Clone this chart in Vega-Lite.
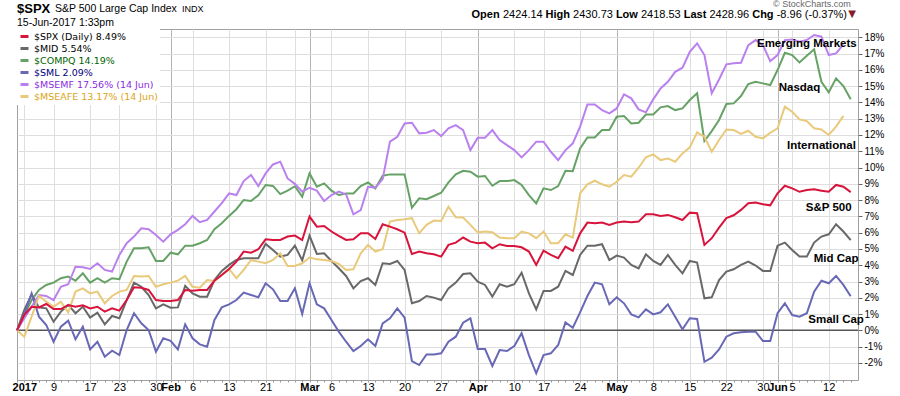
{
"$schema": "https://vega.github.io/schema/vega-lite/v6.json",
"width": 841, "height": 351, "autosize": "none",
"padding": {"left": 17, "top": 29, "right": 42, "bottom": 16},
"background": "white",
"config": {"view": {"stroke": "#a0a0a0", "strokeWidth": 1}, "font": "Liberation Sans"},
"datasets": {
"prices": [
{"date":"2016-12-30","series":"$MID","pct":0},{"date":"2017-01-03","series":"$MID","pct":1.25},{"date":"2017-01-04","series":"$MID","pct":2.21},{"date":"2017-01-05","series":"$MID","pct":1.41},{"date":"2017-01-06","series":"$MID","pct":1.35},{"date":"2017-01-09","series":"$MID","pct":0.53},{"date":"2017-01-10","series":"$MID","pct":1.15},{"date":"2017-01-11","series":"$MID","pct":1.56},{"date":"2017-01-12","series":"$MID","pct":1.05},{"date":"2017-01-13","series":"$MID","pct":1.45},{"date":"2017-01-17","series":"$MID","pct":0.78},{"date":"2017-01-18","series":"$MID","pct":1.09},{"date":"2017-01-19","series":"$MID","pct":0.37},{"date":"2017-01-20","series":"$MID","pct":0.88},{"date":"2017-01-23","series":"$MID","pct":0.74},{"date":"2017-01-24","series":"$MID","pct":1.86},{"date":"2017-01-25","series":"$MID","pct":2.93},{"date":"2017-01-26","series":"$MID","pct":2.68},{"date":"2017-01-27","series":"$MID","pct":2.17},{"date":"2017-01-30","series":"$MID","pct":1.35},{"date":"2017-01-31","series":"$MID","pct":1.6},{"date":"2017-02-01","series":"$MID","pct":1.39},{"date":"2017-02-02","series":"$MID","pct":1.41},{"date":"2017-02-03","series":"$MID","pct":2.73},{"date":"2017-02-06","series":"$MID","pct":2.27},{"date":"2017-02-07","series":"$MID","pct":2.07},{"date":"2017-02-08","series":"$MID","pct":2.07},{"date":"2017-02-09","series":"$MID","pct":3.09},{"date":"2017-02-10","series":"$MID","pct":3.65},{"date":"2017-02-13","series":"$MID","pct":4.02},{"date":"2017-02-14","series":"$MID","pct":4.32},{"date":"2017-02-15","series":"$MID","pct":4.43},{"date":"2017-02-16","series":"$MID","pct":4.43},{"date":"2017-02-17","series":"$MID","pct":4.43},{"date":"2017-02-21","series":"$MID","pct":5.31},{"date":"2017-02-22","series":"$MID","pct":4.94},{"date":"2017-02-23","series":"$MID","pct":4.53},{"date":"2017-02-24","series":"$MID","pct":4.63},{"date":"2017-02-27","series":"$MID","pct":5.2},{"date":"2017-02-28","series":"$MID","pct":4.3},{"date":"2017-03-01","series":"$MID","pct":5.82},{"date":"2017-03-02","series":"$MID","pct":4.69},{"date":"2017-03-03","series":"$MID","pct":4.73},{"date":"2017-03-06","series":"$MID","pct":4.26},{"date":"2017-03-07","series":"$MID","pct":3.81},{"date":"2017-03-08","series":"$MID","pct":3.34},{"date":"2017-03-09","series":"$MID","pct":2.58},{"date":"2017-03-10","series":"$MID","pct":3.03},{"date":"2017-03-13","series":"$MID","pct":3.2},{"date":"2017-03-14","series":"$MID","pct":2.79},{"date":"2017-03-15","series":"$MID","pct":4.12},{"date":"2017-03-16","series":"$MID","pct":4.08},{"date":"2017-03-17","series":"$MID","pct":4.26},{"date":"2017-03-20","series":"$MID","pct":3.71},{"date":"2017-03-21","series":"$MID","pct":1.66},{"date":"2017-03-22","series":"$MID","pct":1.8},{"date":"2017-03-23","series":"$MID","pct":2.11},{"date":"2017-03-24","series":"$MID","pct":2.01},{"date":"2017-03-27","series":"$MID","pct":1.86},{"date":"2017-03-28","series":"$MID","pct":2.58},{"date":"2017-03-29","series":"$MID","pct":2.93},{"date":"2017-03-30","series":"$MID","pct":3.46},{"date":"2017-03-31","series":"$MID","pct":3.5},{"date":"2017-04-03","series":"$MID","pct":2.99},{"date":"2017-04-04","series":"$MID","pct":2.79},{"date":"2017-04-05","series":"$MID","pct":2.07},{"date":"2017-04-06","series":"$MID","pct":2.83},{"date":"2017-04-07","series":"$MID","pct":2.68},{"date":"2017-04-10","series":"$MID","pct":2.83},{"date":"2017-04-11","series":"$MID","pct":3.54},{"date":"2017-04-12","series":"$MID","pct":2.27},{"date":"2017-04-13","series":"$MID","pct":1.29},{"date":"2017-04-17","series":"$MID","pct":2.42},{"date":"2017-04-18","series":"$MID","pct":2.42},{"date":"2017-04-19","series":"$MID","pct":2.68},{"date":"2017-04-20","series":"$MID","pct":3.65},{"date":"2017-04-21","series":"$MID","pct":3.4},{"date":"2017-04-24","series":"$MID","pct":4.63},{"date":"2017-04-25","series":"$MID","pct":5.2},{"date":"2017-04-26","series":"$MID","pct":5.2},{"date":"2017-04-27","series":"$MID","pct":5.29},{"date":"2017-04-28","series":"$MID","pct":4.32},{"date":"2017-05-01","series":"$MID","pct":4.59},{"date":"2017-05-02","series":"$MID","pct":4.47},{"date":"2017-05-03","series":"$MID","pct":4.02},{"date":"2017-05-04","series":"$MID","pct":3.81},{"date":"2017-05-05","series":"$MID","pct":4.67},{"date":"2017-05-08","series":"$MID","pct":4.26},{"date":"2017-05-09","series":"$MID","pct":4.02},{"date":"2017-05-10","series":"$MID","pct":4.63},{"date":"2017-05-11","series":"$MID","pct":4.02},{"date":"2017-05-12","series":"$MID","pct":3.5},{"date":"2017-05-15","series":"$MID","pct":4.26},{"date":"2017-05-16","series":"$MID","pct":4.16},{"date":"2017-05-17","series":"$MID","pct":1.97},{"date":"2017-05-18","series":"$MID","pct":2.03},{"date":"2017-05-19","series":"$MID","pct":3.09},{"date":"2017-05-22","series":"$MID","pct":3.61},{"date":"2017-05-23","series":"$MID","pct":3.75},{"date":"2017-05-24","series":"$MID","pct":4.02},{"date":"2017-05-25","series":"$MID","pct":4.22},{"date":"2017-05-26","series":"$MID","pct":3.98},{"date":"2017-05-30","series":"$MID","pct":3.65},{"date":"2017-05-31","series":"$MID","pct":3.65},{"date":"2017-06-01","series":"$MID","pct":5.2},{"date":"2017-06-02","series":"$MID","pct":5.39},{"date":"2017-06-05","series":"$MID","pct":4.94},{"date":"2017-06-06","series":"$MID","pct":4.53},{"date":"2017-06-07","series":"$MID","pct":4.53},{"date":"2017-06-08","series":"$MID","pct":5.39},{"date":"2017-06-09","series":"$MID","pct":5.76},{"date":"2017-06-12","series":"$MID","pct":5.9},{"date":"2017-06-13","series":"$MID","pct":6.52},{"date":"2017-06-14","series":"$MID","pct":6.07},{"date":"2017-06-15","series":"$MID","pct":5.54},
{"date":"2016-12-30","series":"$COMPQ","pct":0},{"date":"2017-01-03","series":"$COMPQ","pct":0.94},{"date":"2017-01-04","series":"$COMPQ","pct":1.86},{"date":"2017-01-05","series":"$COMPQ","pct":2.48},{"date":"2017-01-06","series":"$COMPQ","pct":2.79},{"date":"2017-01-09","series":"$COMPQ","pct":2.93},{"date":"2017-01-10","series":"$COMPQ","pct":3.2},{"date":"2017-01-11","series":"$COMPQ","pct":3.3},{"date":"2017-01-12","series":"$COMPQ","pct":3.05},{"date":"2017-01-13","series":"$COMPQ","pct":3.5},{"date":"2017-01-17","series":"$COMPQ","pct":2.93},{"date":"2017-01-18","series":"$COMPQ","pct":3.2},{"date":"2017-01-19","series":"$COMPQ","pct":2.93},{"date":"2017-01-20","series":"$COMPQ","pct":3.2},{"date":"2017-01-23","series":"$COMPQ","pct":3.14},{"date":"2017-01-24","series":"$COMPQ","pct":4.22},{"date":"2017-01-25","series":"$COMPQ","pct":5.04},{"date":"2017-01-26","series":"$COMPQ","pct":5.04},{"date":"2017-01-27","series":"$COMPQ","pct":5.1},{"date":"2017-01-30","series":"$COMPQ","pct":4.26},{"date":"2017-01-31","series":"$COMPQ","pct":4.26},{"date":"2017-02-01","series":"$COMPQ","pct":4.77},{"date":"2017-02-02","series":"$COMPQ","pct":4.67},{"date":"2017-02-03","series":"$COMPQ","pct":5.2},{"date":"2017-02-06","series":"$COMPQ","pct":5.2},{"date":"2017-02-07","series":"$COMPQ","pct":5.35},{"date":"2017-02-08","series":"$COMPQ","pct":5.55},{"date":"2017-02-09","series":"$COMPQ","pct":6.21},{"date":"2017-02-10","series":"$COMPQ","pct":6.58},{"date":"2017-02-13","series":"$COMPQ","pct":7.03},{"date":"2017-02-14","series":"$COMPQ","pct":7.44},{"date":"2017-02-15","series":"$COMPQ","pct":8.01},{"date":"2017-02-16","series":"$COMPQ","pct":7.95},{"date":"2017-02-17","series":"$COMPQ","pct":8.3},{"date":"2017-02-21","series":"$COMPQ","pct":8.93},{"date":"2017-02-22","series":"$COMPQ","pct":8.87},{"date":"2017-02-23","series":"$COMPQ","pct":8.37},{"date":"2017-02-24","series":"$COMPQ","pct":8.58},{"date":"2017-02-27","series":"$COMPQ","pct":8.85},{"date":"2017-02-28","series":"$COMPQ","pct":8.21},{"date":"2017-03-01","series":"$COMPQ","pct":9.64},{"date":"2017-03-02","series":"$COMPQ","pct":8.82},{"date":"2017-03-03","series":"$COMPQ","pct":9.03},{"date":"2017-03-06","series":"$COMPQ","pct":8.58},{"date":"2017-03-07","series":"$COMPQ","pct":8.31},{"date":"2017-03-08","series":"$COMPQ","pct":8.41},{"date":"2017-03-09","series":"$COMPQ","pct":8.41},{"date":"2017-03-10","series":"$COMPQ","pct":8.86},{"date":"2017-03-13","series":"$COMPQ","pct":9.09},{"date":"2017-03-14","series":"$COMPQ","pct":8.72},{"date":"2017-03-15","series":"$COMPQ","pct":9.5},{"date":"2017-03-16","series":"$COMPQ","pct":9.58},{"date":"2017-03-17","series":"$COMPQ","pct":9.58},{"date":"2017-03-20","series":"$COMPQ","pct":9.58},{"date":"2017-03-21","series":"$COMPQ","pct":7.53},{"date":"2017-03-22","series":"$COMPQ","pct":8.11},{"date":"2017-03-23","series":"$COMPQ","pct":8.06},{"date":"2017-03-24","series":"$COMPQ","pct":8.25},{"date":"2017-03-27","series":"$COMPQ","pct":8.45},{"date":"2017-03-28","series":"$COMPQ","pct":9.09},{"date":"2017-03-29","series":"$COMPQ","pct":9.58},{"date":"2017-03-30","series":"$COMPQ","pct":9.8},{"date":"2017-03-31","series":"$COMPQ","pct":9.74},{"date":"2017-04-03","series":"$COMPQ","pct":9.44},{"date":"2017-04-04","series":"$COMPQ","pct":9.48},{"date":"2017-04-05","series":"$COMPQ","pct":8.88},{"date":"2017-04-06","series":"$COMPQ","pct":9.17},{"date":"2017-04-07","series":"$COMPQ","pct":9.17},{"date":"2017-04-10","series":"$COMPQ","pct":9.23},{"date":"2017-04-11","series":"$COMPQ","pct":8.93},{"date":"2017-04-12","series":"$COMPQ","pct":8.31},{"date":"2017-04-13","series":"$COMPQ","pct":7.8},{"date":"2017-04-17","series":"$COMPQ","pct":8.72},{"date":"2017-04-18","series":"$COMPQ","pct":8.62},{"date":"2017-04-19","series":"$COMPQ","pct":8.86},{"date":"2017-04-20","series":"$COMPQ","pct":9.8},{"date":"2017-04-21","series":"$COMPQ","pct":9.78},{"date":"2017-04-24","series":"$COMPQ","pct":11.18},{"date":"2017-04-25","series":"$COMPQ","pct":11.85},{"date":"2017-04-26","series":"$COMPQ","pct":11.85},{"date":"2017-04-27","series":"$COMPQ","pct":12.3},{"date":"2017-04-28","series":"$COMPQ","pct":12.3},{"date":"2017-05-01","series":"$COMPQ","pct":13.12},{"date":"2017-05-02","series":"$COMPQ","pct":13.16},{"date":"2017-05-03","series":"$COMPQ","pct":12.71},{"date":"2017-05-04","series":"$COMPQ","pct":12.75},{"date":"2017-05-05","series":"$COMPQ","pct":13.26},{"date":"2017-05-08","series":"$COMPQ","pct":13.26},{"date":"2017-05-09","series":"$COMPQ","pct":13.7},{"date":"2017-05-10","series":"$COMPQ","pct":13.78},{"date":"2017-05-11","series":"$COMPQ","pct":13.53},{"date":"2017-05-12","series":"$COMPQ","pct":13.63},{"date":"2017-05-15","series":"$COMPQ","pct":14.15},{"date":"2017-05-16","series":"$COMPQ","pct":14.56},{"date":"2017-05-17","series":"$COMPQ","pct":11.63},{"date":"2017-05-18","series":"$COMPQ","pct":12.24},{"date":"2017-05-19","series":"$COMPQ","pct":12.92},{"date":"2017-05-22","series":"$COMPQ","pct":13.9},{"date":"2017-05-23","series":"$COMPQ","pct":13.94},{"date":"2017-05-24","series":"$COMPQ","pct":14.39},{"date":"2017-05-25","series":"$COMPQ","pct":15.13},{"date":"2017-05-26","series":"$COMPQ","pct":15.27},{"date":"2017-05-30","series":"$COMPQ","pct":15.17},{"date":"2017-05-31","series":"$COMPQ","pct":15.07},{"date":"2017-06-01","series":"$COMPQ","pct":15.99},{"date":"2017-06-02","series":"$COMPQ","pct":17.05},{"date":"2017-06-05","series":"$COMPQ","pct":16.91},{"date":"2017-06-06","series":"$COMPQ","pct":16.46},{"date":"2017-06-07","series":"$COMPQ","pct":16.87},{"date":"2017-06-08","series":"$COMPQ","pct":17.26},{"date":"2017-06-09","series":"$COMPQ","pct":15.27},{"date":"2017-06-12","series":"$COMPQ","pct":14.62},{"date":"2017-06-13","series":"$COMPQ","pct":15.48},{"date":"2017-06-14","series":"$COMPQ","pct":15.01},{"date":"2017-06-15","series":"$COMPQ","pct":14.19},
{"date":"2016-12-30","series":"$SML","pct":0},{"date":"2017-01-03","series":"$SML","pct":1.0},{"date":"2017-01-04","series":"$SML","pct":2.27},{"date":"2017-01-05","series":"$SML","pct":0.84},{"date":"2017-01-06","series":"$SML","pct":0.33},{"date":"2017-01-09","series":"$SML","pct":-0.7},{"date":"2017-01-10","series":"$SML","pct":0.23},{"date":"2017-01-11","series":"$SML","pct":0.59},{"date":"2017-01-12","series":"$SML","pct":-0.55},{"date":"2017-01-13","series":"$SML","pct":0.23},{"date":"2017-01-17","series":"$SML","pct":-1.17},{"date":"2017-01-18","series":"$SML","pct":-0.7},{"date":"2017-01-19","series":"$SML","pct":-1.62},{"date":"2017-01-20","series":"$SML","pct":-1.25},{"date":"2017-01-23","series":"$SML","pct":-1.52},{"date":"2017-01-24","series":"$SML","pct":0.02},{"date":"2017-01-25","series":"$SML","pct":1.05},{"date":"2017-01-26","series":"$SML","pct":0.43},{"date":"2017-01-27","series":"$SML","pct":0.02},{"date":"2017-01-30","series":"$SML","pct":-1.31},{"date":"2017-01-31","series":"$SML","pct":-0.49},{"date":"2017-02-01","series":"$SML","pct":-0.64},{"date":"2017-02-02","series":"$SML","pct":-1.17},{"date":"2017-02-03","series":"$SML","pct":0.37},{"date":"2017-02-06","series":"$SML","pct":-0.49},{"date":"2017-02-07","series":"$SML","pct":-0.86},{"date":"2017-02-08","series":"$SML","pct":-1.0},{"date":"2017-02-09","series":"$SML","pct":0.64},{"date":"2017-02-10","series":"$SML","pct":1.41},{"date":"2017-02-13","series":"$SML","pct":1.6},{"date":"2017-02-14","series":"$SML","pct":1.86},{"date":"2017-02-15","series":"$SML","pct":2.32},{"date":"2017-02-16","series":"$SML","pct":2.17},{"date":"2017-02-17","series":"$SML","pct":2.03},{"date":"2017-02-21","series":"$SML","pct":2.89},{"date":"2017-02-22","series":"$SML","pct":2.52},{"date":"2017-02-23","series":"$SML","pct":1.8},{"date":"2017-02-24","series":"$SML","pct":1.8},{"date":"2017-02-27","series":"$SML","pct":2.58},{"date":"2017-02-28","series":"$SML","pct":1.0},{"date":"2017-03-01","series":"$SML","pct":2.89},{"date":"2017-03-02","series":"$SML","pct":1.6},{"date":"2017-03-03","series":"$SML","pct":1.35},{"date":"2017-03-06","series":"$SML","pct":0.64},{"date":"2017-03-07","series":"$SML","pct":-0.08},{"date":"2017-03-08","series":"$SML","pct":-0.7},{"date":"2017-03-09","series":"$SML","pct":-1.27},{"date":"2017-03-10","series":"$SML","pct":-0.96},{"date":"2017-03-13","series":"$SML","pct":-0.55},{"date":"2017-03-14","series":"$SML","pct":-0.96},{"date":"2017-03-15","series":"$SML","pct":0.43},{"date":"2017-03-16","series":"$SML","pct":0.74},{"date":"2017-03-17","series":"$SML","pct":1.35},{"date":"2017-03-20","series":"$SML","pct":0.78},{"date":"2017-03-21","series":"$SML","pct":-1.89},{"date":"2017-03-22","series":"$SML","pct":-2.13},{"date":"2017-03-23","series":"$SML","pct":-1.48},{"date":"2017-03-24","series":"$SML","pct":-1.48},{"date":"2017-03-27","series":"$SML","pct":-1.41},{"date":"2017-03-28","series":"$SML","pct":-0.7},{"date":"2017-03-29","series":"$SML","pct":-0.39},{"date":"2017-03-30","series":"$SML","pct":0.47},{"date":"2017-03-31","series":"$SML","pct":0.74},{"date":"2017-04-03","series":"$SML","pct":-1.15},{"date":"2017-04-04","series":"$SML","pct":-1.15},{"date":"2017-04-05","series":"$SML","pct":-2.19},{"date":"2017-04-06","series":"$SML","pct":-1.21},{"date":"2017-04-07","series":"$SML","pct":-1.27},{"date":"2017-04-10","series":"$SML","pct":-0.96},{"date":"2017-04-11","series":"$SML","pct":-0.18},{"date":"2017-04-12","series":"$SML","pct":-1.52},{"date":"2017-04-13","series":"$SML","pct":-2.64},{"date":"2017-04-17","series":"$SML","pct":-1.52},{"date":"2017-04-18","series":"$SML","pct":-1.41},{"date":"2017-04-19","series":"$SML","pct":-0.9},{"date":"2017-04-20","series":"$SML","pct":0.49},{"date":"2017-04-21","series":"$SML","pct":0.16},{"date":"2017-04-24","series":"$SML","pct":1.1},{"date":"2017-04-25","series":"$SML","pct":2.11},{"date":"2017-04-26","series":"$SML","pct":2.93},{"date":"2017-04-27","series":"$SML","pct":2.83},{"date":"2017-04-28","series":"$SML","pct":1.6},{"date":"2017-05-01","series":"$SML","pct":2.03},{"date":"2017-05-02","series":"$SML","pct":1.66},{"date":"2017-05-03","series":"$SML","pct":0.98},{"date":"2017-05-04","series":"$SML","pct":0.8},{"date":"2017-05-05","series":"$SML","pct":1.29},{"date":"2017-05-08","series":"$SML","pct":0.98},{"date":"2017-05-09","series":"$SML","pct":1.11},{"date":"2017-05-10","series":"$SML","pct":1.6},{"date":"2017-05-11","series":"$SML","pct":0.84},{"date":"2017-05-12","series":"$SML","pct":0.06},{"date":"2017-05-15","series":"$SML","pct":0.74},{"date":"2017-05-16","series":"$SML","pct":0.7},{"date":"2017-05-17","series":"$SML","pct":-1.93},{"date":"2017-05-18","series":"$SML","pct":-1.68},{"date":"2017-05-19","series":"$SML","pct":-1.17},{"date":"2017-05-22","series":"$SML","pct":-0.39},{"date":"2017-05-23","series":"$SML","pct":-0.18},{"date":"2017-05-24","series":"$SML","pct":-0.12},{"date":"2017-05-25","series":"$SML","pct":-0.08},{"date":"2017-05-26","series":"$SML","pct":-0.08},{"date":"2017-05-30","series":"$SML","pct":-0.66},{"date":"2017-05-31","series":"$SML","pct":-0.66},{"date":"2017-06-01","series":"$SML","pct":1.05},{"date":"2017-06-02","series":"$SML","pct":1.66},{"date":"2017-06-05","series":"$SML","pct":0.94},{"date":"2017-06-06","series":"$SML","pct":0.84},{"date":"2017-06-07","series":"$SML","pct":1.05},{"date":"2017-06-08","series":"$SML","pct":2.38},{"date":"2017-06-09","series":"$SML","pct":3.05},{"date":"2017-06-12","series":"$SML","pct":2.89},{"date":"2017-06-13","series":"$SML","pct":3.34},{"date":"2017-06-14","series":"$SML","pct":2.79},{"date":"2017-06-15","series":"$SML","pct":2.09},
{"date":"2016-12-30","series":"$MSEMF","pct":0},{"date":"2017-01-03","series":"$MSEMF","pct":0.74},{"date":"2017-01-04","series":"$MSEMF","pct":1.45},{"date":"2017-01-05","series":"$MSEMF","pct":2.17},{"date":"2017-01-06","series":"$MSEMF","pct":2.11},{"date":"2017-01-09","series":"$MSEMF","pct":1.86},{"date":"2017-01-10","series":"$MSEMF","pct":2.68},{"date":"2017-01-11","series":"$MSEMF","pct":2.83},{"date":"2017-01-12","series":"$MSEMF","pct":3.91},{"date":"2017-01-13","series":"$MSEMF","pct":3.87},{"date":"2017-01-17","series":"$MSEMF","pct":3.77},{"date":"2017-01-18","series":"$MSEMF","pct":4.12},{"date":"2017-01-19","series":"$MSEMF","pct":3.71},{"date":"2017-01-20","series":"$MSEMF","pct":3.61},{"date":"2017-01-23","series":"$MSEMF","pct":4.63},{"date":"2017-01-24","series":"$MSEMF","pct":5.35},{"date":"2017-01-25","series":"$MSEMF","pct":5.76},{"date":"2017-01-26","series":"$MSEMF","pct":6.27},{"date":"2017-01-27","series":"$MSEMF","pct":6.21},{"date":"2017-01-30","series":"$MSEMF","pct":5.86},{"date":"2017-01-31","series":"$MSEMF","pct":5.45},{"date":"2017-02-01","series":"$MSEMF","pct":5.9},{"date":"2017-02-02","series":"$MSEMF","pct":6.17},{"date":"2017-02-03","series":"$MSEMF","pct":6.52},{"date":"2017-02-06","series":"$MSEMF","pct":7.03},{"date":"2017-02-07","series":"$MSEMF","pct":6.64},{"date":"2017-02-08","series":"$MSEMF","pct":6.78},{"date":"2017-02-09","series":"$MSEMF","pct":7.3},{"date":"2017-02-10","series":"$MSEMF","pct":7.81},{"date":"2017-02-13","series":"$MSEMF","pct":8.41},{"date":"2017-02-14","series":"$MSEMF","pct":8.31},{"date":"2017-02-15","series":"$MSEMF","pct":9.17},{"date":"2017-02-16","series":"$MSEMF","pct":9.54},{"date":"2017-02-17","series":"$MSEMF","pct":8.86},{"date":"2017-02-21","series":"$MSEMF","pct":9.64},{"date":"2017-02-22","series":"$MSEMF","pct":10.19},{"date":"2017-02-23","series":"$MSEMF","pct":10.36},{"date":"2017-02-24","series":"$MSEMF","pct":9.33},{"date":"2017-02-27","series":"$MSEMF","pct":9.0},{"date":"2017-02-28","series":"$MSEMF","pct":8.52},{"date":"2017-03-01","series":"$MSEMF","pct":8.76},{"date":"2017-03-02","series":"$MSEMF","pct":8.58},{"date":"2017-03-03","series":"$MSEMF","pct":7.94},{"date":"2017-03-06","series":"$MSEMF","pct":8.31},{"date":"2017-03-07","series":"$MSEMF","pct":8.52},{"date":"2017-03-08","series":"$MSEMF","pct":8.35},{"date":"2017-03-09","series":"$MSEMF","pct":7.13},{"date":"2017-03-10","series":"$MSEMF","pct":7.39},{"date":"2017-03-13","series":"$MSEMF","pct":8.82},{"date":"2017-03-14","series":"$MSEMF","pct":8.76},{"date":"2017-03-15","series":"$MSEMF","pct":9.29},{"date":"2017-03-16","series":"$MSEMF","pct":11.59},{"date":"2017-03-17","series":"$MSEMF","pct":11.89},{"date":"2017-03-20","series":"$MSEMF","pct":12.71},{"date":"2017-03-21","series":"$MSEMF","pct":12.75},{"date":"2017-03-22","series":"$MSEMF","pct":12.1},{"date":"2017-03-23","series":"$MSEMF","pct":12.14},{"date":"2017-03-24","series":"$MSEMF","pct":12.3},{"date":"2017-03-27","series":"$MSEMF","pct":11.93},{"date":"2017-03-28","series":"$MSEMF","pct":12.41},{"date":"2017-03-29","series":"$MSEMF","pct":12.61},{"date":"2017-03-30","series":"$MSEMF","pct":12.3},{"date":"2017-03-31","series":"$MSEMF","pct":11.07},{"date":"2017-04-03","series":"$MSEMF","pct":11.83},{"date":"2017-04-04","series":"$MSEMF","pct":11.83},{"date":"2017-04-05","series":"$MSEMF","pct":12.3},{"date":"2017-04-06","series":"$MSEMF","pct":11.69},{"date":"2017-04-07","series":"$MSEMF","pct":11.38},{"date":"2017-04-10","series":"$MSEMF","pct":11.07},{"date":"2017-04-11","series":"$MSEMF","pct":10.62},{"date":"2017-04-12","series":"$MSEMF","pct":11.07},{"date":"2017-04-13","series":"$MSEMF","pct":11.59},{"date":"2017-04-17","series":"$MSEMF","pct":11.59},{"date":"2017-04-18","series":"$MSEMF","pct":10.97},{"date":"2017-04-19","series":"$MSEMF","pct":10.46},{"date":"2017-04-20","series":"$MSEMF","pct":11.07},{"date":"2017-04-21","series":"$MSEMF","pct":11.49},{"date":"2017-04-24","series":"$MSEMF","pct":12.51},{"date":"2017-04-25","series":"$MSEMF","pct":13.88},{"date":"2017-04-26","series":"$MSEMF","pct":13.88},{"date":"2017-04-27","series":"$MSEMF","pct":13.53},{"date":"2017-04-28","series":"$MSEMF","pct":13.33},{"date":"2017-05-01","series":"$MSEMF","pct":13.63},{"date":"2017-05-02","series":"$MSEMF","pct":14.5},{"date":"2017-05-03","series":"$MSEMF","pct":14.25},{"date":"2017-05-04","series":"$MSEMF","pct":13.57},{"date":"2017-05-05","series":"$MSEMF","pct":13.39},{"date":"2017-05-08","series":"$MSEMF","pct":14.19},{"date":"2017-05-09","series":"$MSEMF","pct":14.86},{"date":"2017-05-10","series":"$MSEMF","pct":15.27},{"date":"2017-05-11","series":"$MSEMF","pct":15.88},{"date":"2017-05-12","series":"$MSEMF","pct":16.13},{"date":"2017-05-15","series":"$MSEMF","pct":17.11},{"date":"2017-05-16","series":"$MSEMF","pct":17.63},{"date":"2017-05-17","series":"$MSEMF","pct":16.91},{"date":"2017-05-18","series":"$MSEMF","pct":14.56},{"date":"2017-05-19","series":"$MSEMF","pct":15.41},{"date":"2017-05-22","series":"$MSEMF","pct":16.34},{"date":"2017-05-23","series":"$MSEMF","pct":16.4},{"date":"2017-05-24","series":"$MSEMF","pct":16.44},{"date":"2017-05-25","series":"$MSEMF","pct":17.52},{"date":"2017-05-26","series":"$MSEMF","pct":17.83},{"date":"2017-05-30","series":"$MSEMF","pct":17.52},{"date":"2017-05-31","series":"$MSEMF","pct":16.54},{"date":"2017-06-01","series":"$MSEMF","pct":16.91},{"date":"2017-06-02","series":"$MSEMF","pct":17.83},{"date":"2017-06-05","series":"$MSEMF","pct":17.87},{"date":"2017-06-06","series":"$MSEMF","pct":17.73},{"date":"2017-06-07","series":"$MSEMF","pct":17.83},{"date":"2017-06-08","series":"$MSEMF","pct":18.14},{"date":"2017-06-09","series":"$MSEMF","pct":18.04},{"date":"2017-06-12","series":"$MSEMF","pct":16.91},{"date":"2017-06-13","series":"$MSEMF","pct":17.01},{"date":"2017-06-14","series":"$MSEMF","pct":17.56},
{"date":"2016-12-30","series":"$MSEAFE","pct":0},{"date":"2017-01-03","series":"$MSEAFE","pct":-0.39},{"date":"2017-01-04","series":"$MSEAFE","pct":0.84},{"date":"2017-01-05","series":"$MSEAFE","pct":2.11},{"date":"2017-01-06","series":"$MSEAFE","pct":1.76},{"date":"2017-01-09","series":"$MSEAFE","pct":1.45},{"date":"2017-01-10","series":"$MSEAFE","pct":1.76},{"date":"2017-01-11","series":"$MSEAFE","pct":1.09},{"date":"2017-01-12","series":"$MSEAFE","pct":2.38},{"date":"2017-01-13","series":"$MSEAFE","pct":2.58},{"date":"2017-01-17","series":"$MSEAFE","pct":2.27},{"date":"2017-01-18","series":"$MSEAFE","pct":2.38},{"date":"2017-01-19","series":"$MSEAFE","pct":1.66},{"date":"2017-01-20","series":"$MSEAFE","pct":2.11},{"date":"2017-01-23","series":"$MSEAFE","pct":2.38},{"date":"2017-01-24","series":"$MSEAFE","pct":2.48},{"date":"2017-01-25","series":"$MSEAFE","pct":3.34},{"date":"2017-01-26","series":"$MSEAFE","pct":3.3},{"date":"2017-01-27","series":"$MSEAFE","pct":3.34},{"date":"2017-01-30","series":"$MSEAFE","pct":2.68},{"date":"2017-01-31","series":"$MSEAFE","pct":2.83},{"date":"2017-02-01","series":"$MSEAFE","pct":2.93},{"date":"2017-02-02","series":"$MSEAFE","pct":3.05},{"date":"2017-02-03","series":"$MSEAFE","pct":3.34},{"date":"2017-02-06","series":"$MSEAFE","pct":2.68},{"date":"2017-02-07","series":"$MSEAFE","pct":2.62},{"date":"2017-02-08","series":"$MSEAFE","pct":3.09},{"date":"2017-02-09","series":"$MSEAFE","pct":3.03},{"date":"2017-02-10","series":"$MSEAFE","pct":3.4},{"date":"2017-02-13","series":"$MSEAFE","pct":3.77},{"date":"2017-02-14","series":"$MSEAFE","pct":3.2},{"date":"2017-02-15","series":"$MSEAFE","pct":3.71},{"date":"2017-02-16","series":"$MSEAFE","pct":4.32},{"date":"2017-02-17","series":"$MSEAFE","pct":4.22},{"date":"2017-02-21","series":"$MSEAFE","pct":4.12},{"date":"2017-02-22","series":"$MSEAFE","pct":4.32},{"date":"2017-02-23","series":"$MSEAFE","pct":4.73},{"date":"2017-02-24","series":"$MSEAFE","pct":3.95},{"date":"2017-02-27","series":"$MSEAFE","pct":3.95},{"date":"2017-02-28","series":"$MSEAFE","pct":4.12},{"date":"2017-03-01","series":"$MSEAFE","pct":4.47},{"date":"2017-03-02","series":"$MSEAFE","pct":4.36},{"date":"2017-03-03","series":"$MSEAFE","pct":4.32},{"date":"2017-03-06","series":"$MSEAFE","pct":4.26},{"date":"2017-03-07","series":"$MSEAFE","pct":4.08},{"date":"2017-03-08","series":"$MSEAFE","pct":3.71},{"date":"2017-03-09","series":"$MSEAFE","pct":3.75},{"date":"2017-03-10","series":"$MSEAFE","pct":4.73},{"date":"2017-03-13","series":"$MSEAFE","pct":5.25},{"date":"2017-03-14","series":"$MSEAFE","pct":4.84},{"date":"2017-03-15","series":"$MSEAFE","pct":4.98},{"date":"2017-03-16","series":"$MSEAFE","pct":6.68},{"date":"2017-03-17","series":"$MSEAFE","pct":6.78},{"date":"2017-03-20","series":"$MSEAFE","pct":6.82},{"date":"2017-03-21","series":"$MSEAFE","pct":6.89},{"date":"2017-03-22","series":"$MSEAFE","pct":5.96},{"date":"2017-03-23","series":"$MSEAFE","pct":6.48},{"date":"2017-03-24","series":"$MSEAFE","pct":6.74},{"date":"2017-03-27","series":"$MSEAFE","pct":6.72},{"date":"2017-03-28","series":"$MSEAFE","pct":7.6},{"date":"2017-03-29","series":"$MSEAFE","pct":6.95},{"date":"2017-03-30","series":"$MSEAFE","pct":6.93},{"date":"2017-03-31","series":"$MSEAFE","pct":6.48},{"date":"2017-04-03","series":"$MSEAFE","pct":6.02},{"date":"2017-04-04","series":"$MSEAFE","pct":6.07},{"date":"2017-04-05","series":"$MSEAFE","pct":6.02},{"date":"2017-04-06","series":"$MSEAFE","pct":5.7},{"date":"2017-04-07","series":"$MSEAFE","pct":5.66},{"date":"2017-04-10","series":"$MSEAFE","pct":5.66},{"date":"2017-04-11","series":"$MSEAFE","pct":6.07},{"date":"2017-04-12","series":"$MSEAFE","pct":5.96},{"date":"2017-04-13","series":"$MSEAFE","pct":5.66},{"date":"2017-04-17","series":"$MSEAFE","pct":6.07},{"date":"2017-04-18","series":"$MSEAFE","pct":5.35},{"date":"2017-04-19","series":"$MSEAFE","pct":5.35},{"date":"2017-04-20","series":"$MSEAFE","pct":5.9},{"date":"2017-04-21","series":"$MSEAFE","pct":5.7},{"date":"2017-04-24","series":"$MSEAFE","pct":8.41},{"date":"2017-04-25","series":"$MSEAFE","pct":8.97},{"date":"2017-04-26","series":"$MSEAFE","pct":9.19},{"date":"2017-04-27","series":"$MSEAFE","pct":8.97},{"date":"2017-04-28","series":"$MSEAFE","pct":8.82},{"date":"2017-05-01","series":"$MSEAFE","pct":9.13},{"date":"2017-05-02","series":"$MSEAFE","pct":9.54},{"date":"2017-05-03","series":"$MSEAFE","pct":9.44},{"date":"2017-05-04","series":"$MSEAFE","pct":9.99},{"date":"2017-05-05","series":"$MSEAFE","pct":10.63},{"date":"2017-05-08","series":"$MSEAFE","pct":10.81},{"date":"2017-05-09","series":"$MSEAFE","pct":10.46},{"date":"2017-05-10","series":"$MSEAFE","pct":10.56},{"date":"2017-05-11","series":"$MSEAFE","pct":10.36},{"date":"2017-05-12","series":"$MSEAFE","pct":10.87},{"date":"2017-05-15","series":"$MSEAFE","pct":11.24},{"date":"2017-05-16","series":"$MSEAFE","pct":12.16},{"date":"2017-05-17","series":"$MSEAFE","pct":11.89},{"date":"2017-05-18","series":"$MSEAFE","pct":10.97},{"date":"2017-05-19","series":"$MSEAFE","pct":11.69},{"date":"2017-05-22","series":"$MSEAFE","pct":12.34},{"date":"2017-05-23","series":"$MSEAFE","pct":12.3},{"date":"2017-05-24","series":"$MSEAFE","pct":12.06},{"date":"2017-05-25","series":"$MSEAFE","pct":12.26},{"date":"2017-05-26","series":"$MSEAFE","pct":11.89},{"date":"2017-05-30","series":"$MSEAFE","pct":11.79},{"date":"2017-05-31","series":"$MSEAFE","pct":12.14},{"date":"2017-06-01","series":"$MSEAFE","pct":12.41},{"date":"2017-06-02","series":"$MSEAFE","pct":13.74},{"date":"2017-06-05","series":"$MSEAFE","pct":13.43},{"date":"2017-06-06","series":"$MSEAFE","pct":12.96},{"date":"2017-06-07","series":"$MSEAFE","pct":12.85},{"date":"2017-06-08","series":"$MSEAFE","pct":12.41},{"date":"2017-06-09","series":"$MSEAFE","pct":12.34},{"date":"2017-06-12","series":"$MSEAFE","pct":12.0},{"date":"2017-06-13","series":"$MSEAFE","pct":12.51},{"date":"2017-06-14","series":"$MSEAFE","pct":13.17},
{"date":"2016-12-30","series":"$SPX","pct":0},{"date":"2017-01-03","series":"$SPX","pct":0.95},{"date":"2017-01-04","series":"$SPX","pct":1.45},{"date":"2017-01-05","series":"$SPX","pct":1.41},{"date":"2017-01-06","series":"$SPX","pct":1.62},{"date":"2017-01-09","series":"$SPX","pct":1.31},{"date":"2017-01-10","series":"$SPX","pct":1.31},{"date":"2017-01-11","series":"$SPX","pct":1.56},{"date":"2017-01-12","series":"$SPX","pct":1.45},{"date":"2017-01-13","series":"$SPX","pct":1.54},{"date":"2017-01-17","series":"$SPX","pct":1.35},{"date":"2017-01-18","series":"$SPX","pct":1.45},{"date":"2017-01-19","series":"$SPX","pct":1.15},{"date":"2017-01-20","series":"$SPX","pct":1.35},{"date":"2017-01-23","series":"$SPX","pct":1.21},{"date":"2017-01-24","series":"$SPX","pct":1.86},{"date":"2017-01-25","series":"$SPX","pct":2.64},{"date":"2017-01-26","series":"$SPX","pct":2.62},{"date":"2017-01-27","series":"$SPX","pct":2.48},{"date":"2017-01-30","series":"$SPX","pct":1.86},{"date":"2017-01-31","series":"$SPX","pct":1.8},{"date":"2017-02-01","series":"$SPX","pct":1.8},{"date":"2017-02-02","series":"$SPX","pct":1.86},{"date":"2017-02-03","series":"$SPX","pct":2.48},{"date":"2017-02-06","series":"$SPX","pct":2.44},{"date":"2017-02-07","series":"$SPX","pct":2.48},{"date":"2017-02-08","series":"$SPX","pct":2.48},{"date":"2017-02-09","series":"$SPX","pct":3.05},{"date":"2017-02-10","series":"$SPX","pct":3.4},{"date":"2017-02-13","series":"$SPX","pct":3.77},{"date":"2017-02-14","series":"$SPX","pct":4.22},{"date":"2017-02-15","series":"$SPX","pct":4.84},{"date":"2017-02-16","series":"$SPX","pct":4.77},{"date":"2017-02-17","series":"$SPX","pct":4.98},{"date":"2017-02-21","series":"$SPX","pct":5.59},{"date":"2017-02-22","series":"$SPX","pct":5.55},{"date":"2017-02-23","series":"$SPX","pct":5.55},{"date":"2017-02-24","series":"$SPX","pct":5.76},{"date":"2017-02-27","series":"$SPX","pct":5.82},{"date":"2017-02-28","series":"$SPX","pct":5.55},{"date":"2017-03-01","series":"$SPX","pct":6.99},{"date":"2017-03-02","series":"$SPX","pct":6.37},{"date":"2017-03-03","series":"$SPX","pct":6.41},{"date":"2017-03-06","series":"$SPX","pct":6.07},{"date":"2017-03-07","series":"$SPX","pct":5.8},{"date":"2017-03-08","series":"$SPX","pct":5.55},{"date":"2017-03-09","series":"$SPX","pct":5.59},{"date":"2017-03-10","series":"$SPX","pct":5.96},{"date":"2017-03-13","series":"$SPX","pct":5.96},{"date":"2017-03-14","series":"$SPX","pct":5.61},{"date":"2017-03-15","series":"$SPX","pct":6.52},{"date":"2017-03-16","series":"$SPX","pct":6.37},{"date":"2017-03-17","series":"$SPX","pct":6.21},{"date":"2017-03-20","series":"$SPX","pct":6.0},{"date":"2017-03-21","series":"$SPX","pct":4.69},{"date":"2017-03-22","series":"$SPX","pct":4.84},{"date":"2017-03-23","series":"$SPX","pct":4.73},{"date":"2017-03-24","series":"$SPX","pct":4.67},{"date":"2017-03-27","series":"$SPX","pct":4.53},{"date":"2017-03-28","series":"$SPX","pct":5.25},{"date":"2017-03-29","series":"$SPX","pct":5.39},{"date":"2017-03-30","series":"$SPX","pct":5.7},{"date":"2017-03-31","series":"$SPX","pct":5.45},{"date":"2017-04-03","series":"$SPX","pct":5.35},{"date":"2017-04-04","series":"$SPX","pct":5.39},{"date":"2017-04-05","series":"$SPX","pct":5.04},{"date":"2017-04-06","series":"$SPX","pct":5.29},{"date":"2017-04-07","series":"$SPX","pct":5.18},{"date":"2017-04-10","series":"$SPX","pct":5.18},{"date":"2017-04-11","series":"$SPX","pct":5.1},{"date":"2017-04-12","series":"$SPX","pct":4.84},{"date":"2017-04-13","series":"$SPX","pct":4.02},{"date":"2017-04-17","series":"$SPX","pct":4.9},{"date":"2017-04-18","series":"$SPX","pct":4.63},{"date":"2017-04-19","series":"$SPX","pct":4.43},{"date":"2017-04-20","series":"$SPX","pct":5.14},{"date":"2017-04-21","series":"$SPX","pct":4.88},{"date":"2017-04-24","series":"$SPX","pct":5.96},{"date":"2017-04-25","series":"$SPX","pct":6.62},{"date":"2017-04-26","series":"$SPX","pct":6.58},{"date":"2017-04-27","series":"$SPX","pct":6.62},{"date":"2017-04-28","series":"$SPX","pct":6.48},{"date":"2017-05-01","series":"$SPX","pct":6.62},{"date":"2017-05-02","series":"$SPX","pct":6.68},{"date":"2017-05-03","series":"$SPX","pct":6.64},{"date":"2017-05-04","series":"$SPX","pct":6.68},{"date":"2017-05-05","series":"$SPX","pct":7.13},{"date":"2017-05-08","series":"$SPX","pct":7.13},{"date":"2017-05-09","series":"$SPX","pct":7.03},{"date":"2017-05-10","series":"$SPX","pct":7.09},{"date":"2017-05-11","series":"$SPX","pct":6.95},{"date":"2017-05-12","series":"$SPX","pct":6.78},{"date":"2017-05-15","series":"$SPX","pct":7.23},{"date":"2017-05-16","series":"$SPX","pct":7.19},{"date":"2017-05-17","series":"$SPX","pct":5.25},{"date":"2017-05-18","series":"$SPX","pct":5.66},{"date":"2017-05-19","series":"$SPX","pct":6.31},{"date":"2017-05-22","series":"$SPX","pct":6.89},{"date":"2017-05-23","series":"$SPX","pct":7.07},{"date":"2017-05-24","series":"$SPX","pct":7.4},{"date":"2017-05-25","series":"$SPX","pct":7.81},{"date":"2017-05-26","series":"$SPX","pct":7.85},{"date":"2017-05-30","series":"$SPX","pct":7.75},{"date":"2017-05-31","series":"$SPX","pct":7.68},{"date":"2017-06-01","series":"$SPX","pct":8.42},{"date":"2017-06-02","series":"$SPX","pct":8.88},{"date":"2017-06-05","series":"$SPX","pct":8.72},{"date":"2017-06-06","series":"$SPX","pct":8.51},{"date":"2017-06-07","series":"$SPX","pct":8.62},{"date":"2017-06-08","series":"$SPX","pct":8.66},{"date":"2017-06-09","series":"$SPX","pct":8.58},{"date":"2017-06-12","series":"$SPX","pct":8.51},{"date":"2017-06-13","series":"$SPX","pct":8.93},{"date":"2017-06-14","series":"$SPX","pct":8.82},{"date":"2017-06-15","series":"$SPX","pct":8.49}
],
"notes": [
{"label":"Emerging Markets","date":"2017-06-07","pct":17.59},
{"label":"Nasdaq","date":"2017-06-06","pct":14.91},
{"label":"International","date":"2017-06-09","pct":11.32},
{"label":"S&P 500","date":"2017-06-12","pct":7.51},
{"label":"Mid Cap","date":"2017-06-13","pct":4.38},
{"label":"Small Cap","date":"2017-06-13","pct":0.63}
]
},
"layer": [
{
"data": {"values": [{"date": "2016-12-30", "pct": 0}]},
"mark": {"type": "rule", "color": "#555555", "strokeWidth": 1.5},
"encoding": {"y": {"field": "pct", "type": "quantitative",
"scale": {"domain": [-3.05, 18.51], "nice": false, "zero": false},
"axis": {"title": null, "orient": "right", "domain": false, "values": [-2,-1,0,1,2,3,4,5,6,7,8,9,10,11,12,13,14,15,16,17,18], "tickCount": 40,
"labelOverlap": false, "labelExpr": "datum.value + '%'", "labelFont": "Liberation Sans", "labelFontSize": 10, "labelColor": "black",
"tickSize": 4, "tickColor": "#666666", "labelPadding": 2, "grid": true, "gridColor": "#dedede"}}}
},
{
"data": {"name": "prices"},
"mark": {"type": "line", "strokeWidth": 2},
"encoding": {
"x": {"field": "date", "type": "ordinal",
"scale": {"type": "point", "padding": 0.5, "align": 0},
"axis": {"title": null, "orient": "bottom", "domain": false, "labelAngle": 0, "labelOverlap": false,
"labelFont": "Liberation Sans", "labelFontSize": 11, "labelColor": "black", "labelPadding": -1,
"tickSize": 2, "tickColor": "#999999",
"labelExpr": "datum.value == '2017-01-03' ? '2017' : indexof(['2017-02-01','2017-03-01','2017-04-03','2017-05-01','2017-06-01'], datum.value) >= 0 ? ['','Jan','Feb','Mar','Apr','May','Jun'][toNumber(slice(datum.value,5,7))] : indexof(['2017-01-09','2017-01-17','2017-01-23','2017-01-30','2017-02-06','2017-02-13','2017-02-21','2017-03-06','2017-03-13','2017-03-20','2017-03-27','2017-04-10','2017-04-17','2017-04-24','2017-05-08','2017-05-15','2017-05-22','2017-05-30','2017-06-05','2017-06-12'], datum.value) >= 0 ? '' + toNumber(slice(datum.value,8)) : ''",
"labelFontWeight": {"condition": {"test": "indexof(['2017-01-03','2017-02-01','2017-03-01','2017-04-03','2017-05-01','2017-06-01'], datum.value) >= 0", "value": "bold"}, "value": "normal"},
"grid": true,
"gridColor": {"condition": {"test": "indexof(['2017-02-01','2017-03-01','2017-04-03','2017-05-01','2017-06-01'], datum.value) >= 0", "value": "#b4b4b4"}, "value": "#dedede"},
"gridOpacity": {"condition": {"test": "indexof(['2017-01-03','2017-01-09','2017-01-17','2017-01-23','2017-01-30','2017-02-01','2017-02-06','2017-02-13','2017-02-21','2017-02-27','2017-03-01','2017-03-06','2017-03-13','2017-03-20','2017-03-27','2017-04-03','2017-04-10','2017-04-17','2017-04-24','2017-05-01','2017-05-08','2017-05-15','2017-05-22','2017-05-30','2017-06-01','2017-06-05','2017-06-12'], datum.value) >= 0", "value": 1}, "value": 0}
}},
"y": {"field": "pct", "type": "quantitative",
"scale": {"domain": [-3.05, 18.51], "nice": false, "zero": false},
"axis": {"title": null, "orient": "right", "domain": false, "values": [-2,-1,0,1,2,3,4,5,6,7,8,9,10,11,12,13,14,15,16,17,18], "tickCount": 40,
"labelOverlap": false, "labelExpr": "datum.value + '%'", "labelFont": "Liberation Sans", "labelFontSize": 10, "labelColor": "black",
"tickSize": 4, "tickColor": "#666666", "labelPadding": 2, "grid": true, "gridColor": "#dedede"}},
"color": {"field": "series", "type": "nominal",
"scale": {"domain": ["$SPX","$MID","$COMPQ","$SML","$MSEMF","$MSEAFE"],
"range": ["#d8143c","#686868","#66a266","#6868b6","#b980ee","#e9c97a"]},
"legend": {"orient": "none", "legendX": 0, "legendY": 0, "title": null, "fillColor": "white", "padding": 2,
"symbolType": "stroke", "symbolSize": 64, "symbolStrokeWidth": 3, "labelFont": "DejaVu Sans", "labelFontSize": 9.5,
"rowPadding": -3, "labelOffset": 4,
"labelExpr": "datum.value == '$SPX' ? '$SPX (Daily) 8.49%' : datum.value == '$MID' ? '$MID 5.54%' : datum.value == '$COMPQ' ? '$COMPQ 14.19%' : datum.value == '$SML' ? '$SML 2.09%' : datum.value == '$MSEMF' ? '$MSEMF 17.56% (14 Jun)' : '$MSEAFE 13.17% (14 Jun)'",
"encode": {
"symbols": {"update": {"stroke": {"signal": "datum.value == '$SPX' ? '#dc143c' : datum.value == '$MID' ? '#000000' : datum.value == '$COMPQ' ? '#006400' : datum.value == '$SML' ? '#000080' : datum.value == '$MSEMF' ? '#8a2be2' : '#daa520'"}}},
"labels": {"update": {"fill": {"signal": "datum.value == '$SPX' ? '#000000' : datum.value == '$MID' ? '#000000' : datum.value == '$COMPQ' ? '#006400' : datum.value == '$SML' ? '#000080' : datum.value == '$MSEMF' ? '#8a2be2' : '#daa520'"}}}
}}}
}
},
{
"data": {"name": "notes"},
"mark": {"type": "text", "font": "Liberation Sans", "fontWeight": "bold", "fontSize": 11.5, "align": "center", "baseline": "middle", "color": "black"},
"encoding": {"x": {"field": "date", "type": "ordinal"}, "y": {"field": "pct", "type": "quantitative"}, "text": {"field": "label"}}
},
{
"data": {"values": [{"label": "$SPX", "date": "2016-12-30", "pct": 19.47}]},
"mark": {"type": "text", "clip": false, "font": "Liberation Sans", "fontWeight": "bold", "fontSize": 13, "align": "left", "baseline": "alphabetic", "color": "black"},
"encoding": {"x": {"field": "date", "type": "ordinal"}, "y": {"field": "pct", "type": "quantitative"}, "text": {"field": "label"}}
},
{
"data": {"values": [{"label": "S&P 500 Large Cap Index", "date": "2016-12-30", "pct": 19.54}]},
"mark": {"type": "text", "clip": false, "font": "Liberation Sans", "fontSize": 10.5, "align": "left", "baseline": "alphabetic", "dx": 38, "color": "black"},
"encoding": {"x": {"field": "date", "type": "ordinal"}, "y": {"field": "pct", "type": "quantitative"}, "text": {"field": "label"}}
},
{
"data": {"values": [{"label": "INDX", "date": "2016-12-30", "pct": 19.54}]},
"mark": {"type": "text", "clip": false, "font": "Liberation Sans", "fontSize": 9, "align": "left", "baseline": "alphabetic", "dx": 165, "color": "black"},
"encoding": {"x": {"field": "date", "type": "ordinal"}, "y": {"field": "pct", "type": "quantitative"}, "text": {"field": "label"}}
},
{
"data": {"values": [{"label": "15-Jun-2017 1:33pm", "date": "2016-12-30", "pct": 18.69}]},
"mark": {"type": "text", "clip": false, "font": "Liberation Sans", "fontSize": 10.5, "align": "left", "baseline": "alphabetic", "color": "black"},
"encoding": {"x": {"field": "date", "type": "ordinal"}, "y": {"field": "pct", "type": "quantitative"}, "text": {"field": "label"}}
},
{
"data": {"values": [{"label": "© StockCharts.com", "date": "2017-06-15", "pct": 19.85}]},
"mark": {"type": "text", "clip": false, "font": "Liberation Sans", "fontSize": 9, "align": "right", "baseline": "alphabetic", "color": "#666666"},
"encoding": {"x": {"field": "date", "type": "ordinal"}, "y": {"field": "pct", "type": "quantitative"}, "text": {"field": "label"}}
},
{
"data": {"values": [{"label": "Open", "date": "2017-06-15", "pct": 19.19}]},
"mark": {"type": "text", "clip": false, "font": "Liberation Sans", "fontWeight": "bold", "fontSize": 11, "align": "right", "baseline": "alphabetic", "dx": -351, "color": "black"},
"encoding": {"x": {"field": "date", "type": "ordinal"}, "y": {"field": "pct", "type": "quantitative"}, "text": {"field": "label"}}
},
{
"data": {"values": [{"label": "2424.14", "date": "2017-06-15", "pct": 19.19}]},
"mark": {"type": "text", "clip": false, "font": "Liberation Sans", "fontSize": 11, "align": "right", "baseline": "alphabetic", "dx": -308, "color": "black"},
"encoding": {"x": {"field": "date", "type": "ordinal"}, "y": {"field": "pct", "type": "quantitative"}, "text": {"field": "label"}}
},
{
"data": {"values": [{"label": "High", "date": "2017-06-15", "pct": 19.19}]},
"mark": {"type": "text", "clip": false, "font": "Liberation Sans", "fontWeight": "bold", "fontSize": 11, "align": "right", "baseline": "alphabetic", "dx": -280.7, "color": "black"},
"encoding": {"x": {"field": "date", "type": "ordinal"}, "y": {"field": "pct", "type": "quantitative"}, "text": {"field": "label"}}
},
{
"data": {"values": [{"label": "2430.73", "date": "2017-06-15", "pct": 19.19}]},
"mark": {"type": "text", "clip": false, "font": "Liberation Sans", "fontSize": 11, "align": "right", "baseline": "alphabetic", "dx": -237.8, "color": "black"},
"encoding": {"x": {"field": "date", "type": "ordinal"}, "y": {"field": "pct", "type": "quantitative"}, "text": {"field": "label"}}
},
{
"data": {"values": [{"label": "Low", "date": "2017-06-15", "pct": 19.19}]},
"mark": {"type": "text", "clip": false, "font": "Liberation Sans", "fontWeight": "bold", "fontSize": 11, "align": "right", "baseline": "alphabetic", "dx": -212.8, "color": "black"},
"encoding": {"x": {"field": "date", "type": "ordinal"}, "y": {"field": "pct", "type": "quantitative"}, "text": {"field": "label"}}
},
{
"data": {"values": [{"label": "2418.53", "date": "2017-06-15", "pct": 19.19}]},
"mark": {"type": "text", "clip": false, "font": "Liberation Sans", "fontSize": 11, "align": "right", "baseline": "alphabetic", "dx": -170, "color": "black"},
"encoding": {"x": {"field": "date", "type": "ordinal"}, "y": {"field": "pct", "type": "quantitative"}, "text": {"field": "label"}}
},
{
"data": {"values": [{"label": "Last", "date": "2017-06-15", "pct": 19.19}]},
"mark": {"type": "text", "clip": false, "font": "Liberation Sans", "fontWeight": "bold", "fontSize": 11, "align": "right", "baseline": "alphabetic", "dx": -144.3, "color": "black"},
"encoding": {"x": {"field": "date", "type": "ordinal"}, "y": {"field": "pct", "type": "quantitative"}, "text": {"field": "label"}}
},
{
"data": {"values": [{"label": "2428.96", "date": "2017-06-15", "pct": 19.19}]},
"mark": {"type": "text", "clip": false, "font": "Liberation Sans", "fontSize": 11, "align": "right", "baseline": "alphabetic", "dx": -101.5, "color": "black"},
"encoding": {"x": {"field": "date", "type": "ordinal"}, "y": {"field": "pct", "type": "quantitative"}, "text": {"field": "label"}}
},
{
"data": {"values": [{"label": "Chg", "date": "2017-06-15", "pct": 19.19}]},
"mark": {"type": "text", "clip": false, "font": "Liberation Sans", "fontWeight": "bold", "fontSize": 11, "align": "right", "baseline": "alphabetic", "dx": -77.1, "color": "black"},
"encoding": {"x": {"field": "date", "type": "ordinal"}, "y": {"field": "pct", "type": "quantitative"}, "text": {"field": "label"}}
},
{
"data": {"values": [{"label": "-8.96 (-0.37%)", "date": "2017-06-15", "pct": 19.19}]},
"mark": {"type": "text", "clip": false, "font": "Liberation Sans", "fontSize": 11, "align": "right", "baseline": "alphabetic", "dx": -3.7, "color": "black"},
"encoding": {"x": {"field": "date", "type": "ordinal"}, "y": {"field": "pct", "type": "quantitative"}, "text": {"field": "label"}}
},
{
"data": {"values": [{"label": "▼", "date": "2017-06-15", "pct": 19.22}]},
"mark": {"type": "text", "clip": false, "font": "DejaVu Sans", "fontSize": 10, "align": "left", "baseline": "alphabetic", "dx": -2.5, "color": "#8b1a2a"},
"encoding": {"x": {"field": "date", "type": "ordinal"}, "y": {"field": "pct", "type": "quantitative"}, "text": {"field": "label"}}
}
]
}
